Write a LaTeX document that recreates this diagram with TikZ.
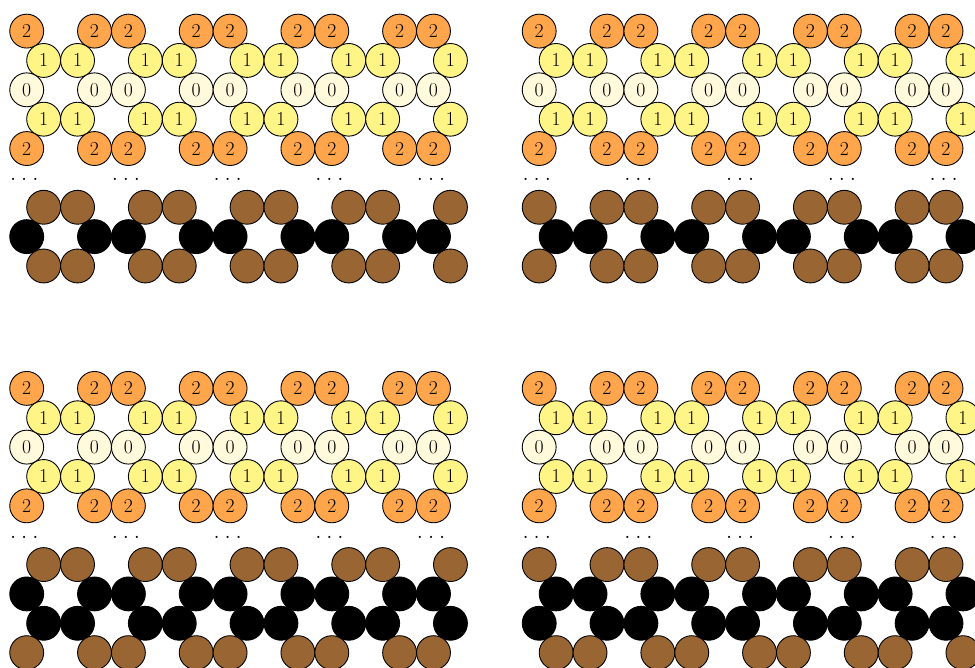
\documentclass[tikz,border=0pt]{standalone}
\definecolor{ocol}{RGB}{255,166,77}
\definecolor{ycol}{RGB}{255,245,135}
\definecolor{pcol}{RGB}{255,250,220}
\definecolor{bcol}{RGB}{153,102,51}
\tikzset{
  atom/.style={circle, draw=black, line width=0.9pt, minimum size=33.9pt, inner sep=0pt, font=\fontsize{19.7}{23}\selectfont},
  twoatom/.style={atom, fill=ocol},
  oneatom/.style={atom, fill=ycol},
  zeroatom/.style={atom, fill=pcol},
  brownatom/.style={atom, fill=bcol},
  blackatom/.style={atom, fill=black},
  dotsnode/.style={inner sep=0pt, font=\fontsize{26.5}{30}\selectfont}
}
\def\pA{0,2,3,5,6,8,9,11,12}
\def\pB{0.5,1.5,3.5,4.5,6.5,7.5,9.5,10.5,12.5}
% #1 prefix, #2 row, #3 column list macro, #4 style, #5 label
\newcommand\atomrow[5]{%
  \foreach \c [count=\i] in #3 {
    \node[#4] (#1-r#2-\i) at ({26.7+33.9*\c+\px},{31.1+29.36*#2+\py}) {#5};
  }}
\newcommand\toppart[1]{%
  \atomrow{#1}{0}{\pA}{twoatom}{2}
  \atomrow{#1}{1}{\pB}{oneatom}{1}
  \atomrow{#1}{2}{\pA}{zeroatom}{0}
  \atomrow{#1}{3}{\pB}{oneatom}{1}
  \atomrow{#1}{4}{\pA}{twoatom}{2}
  \foreach \c [count=\i] in {0,3,6,9,12} {
    \node[dotsnode] (#1-dots-\i) at ({24.3+33.9*\c+\px},{179.8+\py}) {.\hspace{0.1667em}.\hspace{0.1667em}.};
  }}
\begin{document}
\begin{tikzpicture}[x=1pt,y=-1pt]
\useasboundingbox (0,0) rectangle (975,667);
\clip (0,0) rectangle (975,667);
% top-left
\def\px{0}\def\py{0}
\toppart{tl}
\atomrow{tl}{6}{\pB}{brownatom}{}
\atomrow{tl}{7}{\pA}{blackatom}{}
\atomrow{tl}{8}{\pB}{brownatom}{}
% top-right
\def\px{512.5}\def\py{0}
\toppart{tr}
\atomrow{tr}{6}{\pA}{brownatom}{}
\atomrow{tr}{7}{\pB}{blackatom}{}
\atomrow{tr}{8}{\pA}{brownatom}{}
% bottom-left
\def\px{0}\def\py{357.3}
\toppart{bl}
\atomrow{bl}{6}{\pB}{brownatom}{}
\atomrow{bl}{7}{\pA}{blackatom}{}
\atomrow{bl}{8}{\pB}{blackatom}{}
\atomrow{bl}{9}{\pA}{brownatom}{}
% bottom-right
\def\px{512.5}\def\py{357.3}
\toppart{br}
\atomrow{br}{6}{\pA}{brownatom}{}
\atomrow{br}{7}{\pB}{blackatom}{}
\atomrow{br}{8}{\pA}{blackatom}{}
\atomrow{br}{9}{\pB}{brownatom}{}
\end{tikzpicture}
\end{document}
